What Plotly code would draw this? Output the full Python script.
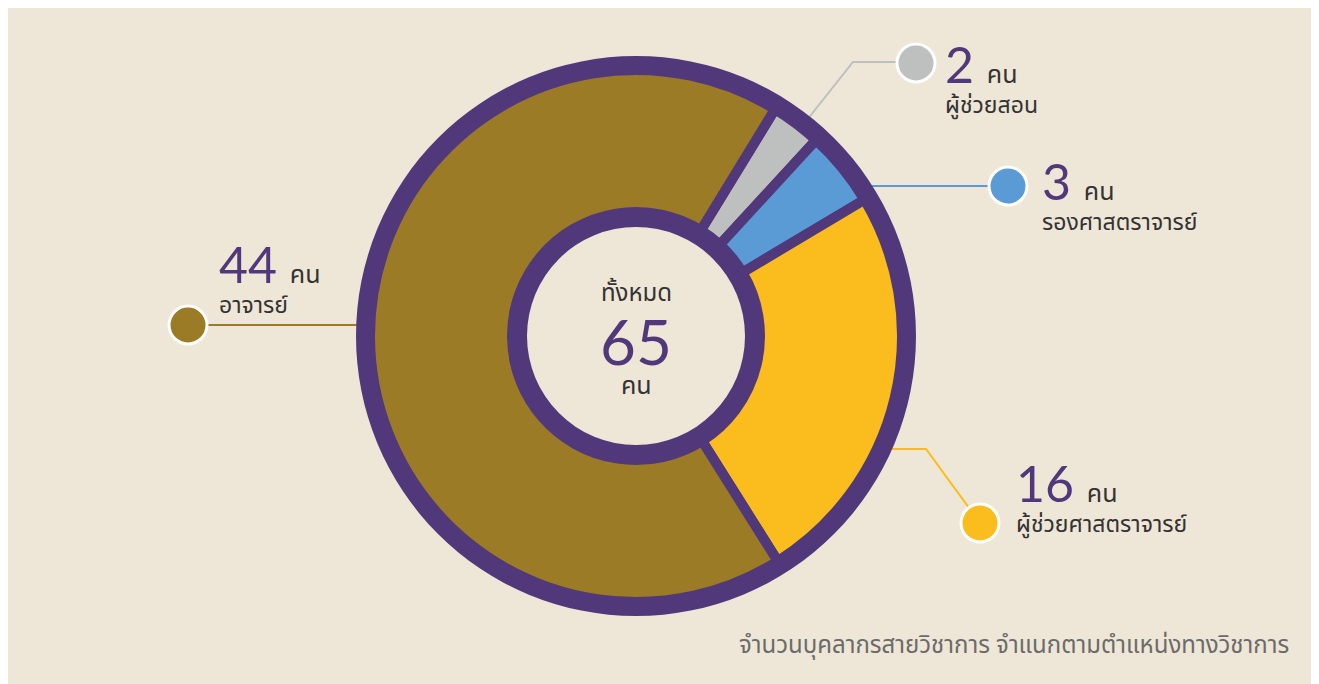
import plotly.graph_objects as go

# ---- data ----
categories = ["ผู้ช่วยสอน", "รองศาสตราจารย์", "ผู้ช่วยศาสตราจารย์", "อาจารย์"]
counts = [2, 3, 16, 44]
colors = ["#BEBFBF", "#5B9BD5", "#FBBC1D", "#9C7B26"]
unit = "คน"
total_label = "ทั้งหมด"
caption = "จำนวนบุคลากรสายวิชาการ จำแนกตามตำแหน่งทางวิชาการ"

# page offset (body margin) so coordinates below are screen pixels
OX, OY = 8, 8
W, H = 1319 - OX, 684 - OY
BG = "#EEE6D6"
PURPLE = "#51387A"
TXT = "#333333"
THAI = "Noto Sans Thai, Loma, Garuda, Noto Sans, sans-serif"
NUM = "Lato"

cx, cy = 636, 336          # screen pixels
R_outer, R_hole = 280, 109
R_slice, slice_hole = 266, 124 / 266


def dom(r):
    fx, fy = cx - OX, cy - OY
    return dict(x=[(fx - r) / W, (fx + r) / W],
                y=[(H - fy - r) / H, (H - fy + r) / H])


fig = go.Figure()

# purple backing ring
fig.add_trace(go.Pie(values=[1], marker=dict(colors=[PURPLE], line=dict(width=0)),
                     hole=R_hole / R_outer, domain=dom(R_outer), textinfo="none",
                     hoverinfo="skip", showlegend=False, sort=False))
# slices
fig.add_trace(go.Pie(labels=categories, values=counts, sort=False, direction="clockwise",
                     rotation=31.5, hole=slice_hole, domain=dom(R_slice),
                     marker=dict(colors=colors, line=dict(color=PURPLE, width=10)),
                     textinfo="none", showlegend=False))

# hidden axes in screen pixels for callouts
fig.update_xaxes(range=[OX, OX + W], visible=False, fixedrange=True)
fig.update_yaxes(range=[OY + H, OY], visible=False, fixedrange=True)

callouts = [
    dict(path=[(803, 125), (853, 62), (897, 62)], dot=(916, 63), txt=(943, 78)),
    dict(path=[(850, 186), (990, 186)], dot=(1008, 186), txt=(1040, 195)),
    dict(path=[(872, 449), (926, 449), (972, 512)], dot=(980, 523), txt=(1014, 497)),
    dict(path=[(375, 325), (205, 325)], dot=(188, 325), txt=(217, 278)),
]

for i, c in enumerate(callouts):
    xs = [p[0] for p in c["path"]]
    ys = [p[1] for p in c["path"]]
    fig.add_trace(go.Scatter(x=xs, y=ys, mode="lines", line=dict(color=colors[i], width=2),
                             hoverinfo="skip", showlegend=False))
    fig.add_trace(go.Scatter(x=[c["dot"][0]], y=[c["dot"][1]], mode="markers",
                             marker=dict(size=38, color=colors[i], line=dict(color="white", width=3)),
                             hoverinfo="skip", showlegend=False))
    text = (f"<span style='font-family:{NUM};font-size:50px;color:{PURPLE}'>{counts[i]} </span>"
            f"<span style='font-size:25px'>{unit}</span><br>{categories[i]}")
    fig.add_annotation(x=c["txt"][0], y=c["txt"][1], xref="x", yref="y", text=text,
                       showarrow=False, xanchor="left", yanchor="middle", align="left",
                       font=dict(family=THAI, size=23, color=TXT))

# centre text
fig.add_annotation(x=cx, y=294, xref="x", yref="y", text=total_label, showarrow=False,
                   font=dict(family=THAI, size=24, color=TXT))
fig.add_annotation(x=cx, y=341, xref="x", yref="y", text=str(sum(counts)), showarrow=False,
                   font=dict(family=NUM, size=62, color=PURPLE))
fig.add_annotation(x=cx, y=386, xref="x", yref="y", text=unit, showarrow=False,
                   font=dict(family=THAI, size=25, color=TXT))

# caption
fig.add_annotation(x=1291, y=646, xref="x", yref="y", text=caption, showarrow=False,
                   xanchor="right", yanchor="middle",
                   font=dict(family=THAI, size=24, color="#6B6B6B"))

fig.update_layout(
    width=W, height=H, margin=dict(l=0, r=0, t=0, b=0),
    paper_bgcolor="white", plot_bgcolor="rgba(0,0,0,0)",
    shapes=[dict(type="rect", xref="x", yref="y", x0=OX, x1=1313,
                 y0=OY, y1=OY + H, fillcolor=BG, line=dict(width=0), layer="below")],
)

fig.write_html("out.html")
